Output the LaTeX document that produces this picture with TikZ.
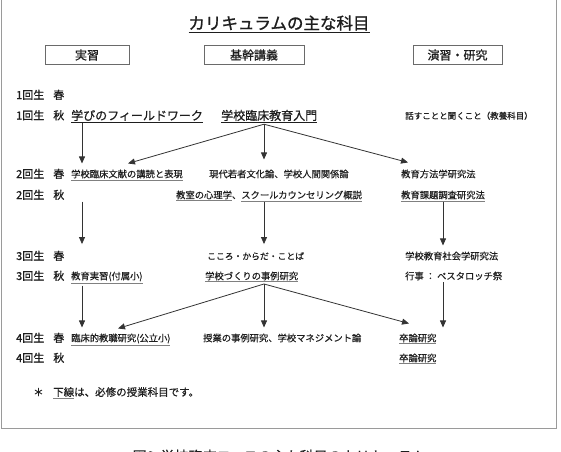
\documentclass[tikz,border=0pt]{standalone}
\usepackage{fontspec}
\setmainfont{Noto Sans CJK JP}[FakeBold=0.4]
\newfontfamily\heavyfont{Noto Sans CJK JP}[FakeBold=1.2]
\newfontfamily\midfont{Noto Sans CJK JP}[FakeBold=0.8]
\usetikzlibrary{arrows.meta}
\definecolor{ink}{HTML}{1E1E1E}
\definecolor{arrc}{HTML}{333333}
\definecolor{ulg}{HTML}{808080}
\definecolor{framec}{HTML}{9A9A9A}
\definecolor{boxc}{HTML}{6A6A6A}
\newcommand\ulk[1]{\underline{#1}}
\newcommand\ulgr[1]{\textcolor{ulg}{\underline{\textcolor{ink}{#1}}}}
\tikzset{
  txt/.style={inner sep=0pt, anchor=base west, text=ink, font=\fontsize{9.3}{11}\selectfont},
  bigtxt/.style={txt, font=\midfont\fontsize{12}{14}\selectfont},
  lbl/.style={txt, font=\midfont\fontsize{11}{13}\selectfont},
  hdr/.style={draw=boxc, line width=0.8pt, minimum height=19pt, inner sep=0pt, text=ink, font=\midfont\fontsize{12}{14}\selectfont},
  arr/.style={draw=arrc, line width=0.8pt, -{Triangle[length=7pt,width=6pt]}},
}
\begin{document}
\begin{tikzpicture}[x=1pt,y=-1pt]
\useasboundingbox (0,0) rectangle (561,451);
\clip (0,0) rectangle (561,451);
\fill[white] (0,0) rectangle (561,451);
% frame
\draw[framec, line width=1pt] (1,-5) rectangle (556,428);
% title
\node[anchor=base, inner sep=0pt, text=ink, font=\heavyfont\fontsize{16.5}{18}\selectfont] (title) at (279,29.3) {\ulk{カリキュラムの主な科目}};
% headers
\node[hdr, minimum width=84pt] (h1) at (87,55) {実習};
\node[hdr, minimum width=100pt] (h2) at (254,55) {基幹講義};
\node[hdr, minimum width=89pt] (h3) at (457.5,55) {演習・研究};
% columns
\coordinate (colA) at (82,0);
\coordinate (colB) at (264,0);
\coordinate (colC) at (443,0);
% row 1
\node[lbl] (r1a) at (16,99) {1回生\hspace{9pt}春};
\node[lbl] (r1b) at (16,119.5) {1回生\hspace{9pt}秋};
\node[bigtxt] (fw) at (71,120) {\ulk{学びのフィールドワーク}};
\node[bigtxt] (intro) at (221,120) {\ulk{学校臨床教育入門}};
\node[txt, font=\fontsize{8.5}{10}\selectfont] (hanasu) at (405,119) {話すことと聞くこと（教養科目）};
% row 2
\node[lbl] (r2a) at (16,178) {2回生\hspace{9pt}春};
\node[txt] (lit) at (71,177.5) {\ulgr{学校臨床文献の講読と表現}};
\node[txt] (mod) at (209,177.5) {現代若者文化論、学校人間関係論};
\node[txt] (meth) at (401,177.5) {教育方法学研究法};
\node[lbl] (r2b) at (16,199) {2回生\hspace{9pt}秋};
\node[txt] (psy) at (176,198.5) {\ulgr{教室の心理学}、\ulgr{スクールカウンセリング概説}};
\node[txt] (issue) at (401,198.5) {\ulgr{教育課題調査研究法}};
% row 3
\node[lbl] (r3a) at (16,260) {3回生\hspace{9pt}春};
\node[txt, font=\fontsize{8.8}{10}\selectfont] (kokoro) at (207,259.5) {こころ・からだ・ことば};
\node[txt] (soc) at (405,259.5) {学校教育社会学研究法};
\node[lbl] (r3b) at (16,280) {3回生\hspace{9pt}秋};
\node[txt] (prac) at (71,279.5) {\ulgr{教育実習(付属小)}};
\node[txt] (school) at (205,279.5) {\ulgr{学校づくりの事例研究}};
\node[txt] (event) at (405,279.5) {行事\hspace{2pt}：\hspace{2pt}ペスタロッチ祭};
% row 4
\node[lbl] (r4a) at (16,342) {4回生\hspace{9pt}春};
\node[txt] (clin) at (71,341.5) {\ulgr{臨床的教職研究(公立小)}};
\node[txt] (case) at (203,341.5) {授業の事例研究、学校マネジメント論};
\node[txt] (thes1) at (399,341.5) {\ulgr{卒論研究}};
\node[lbl] (r4b) at (16,362) {4回生\hspace{9pt}秋};
\node[txt] (thes2) at (399,361.5) {\ulgr{卒論研究}};
% note
\node[txt, font=\fontsize{10.5}{12}\selectfont] (ast) at (33,396) {＊};
\node[txt, font=\fontsize{10.5}{12}\selectfont] (note) at (53,396) {\ulgr{下線}は、必修の授業科目です。};
% caption (cut off by the picture edge, as in the reference)
\node[anchor=base, inner sep=0pt, text=ink, font=\fontsize{14}{16}\selectfont] (cap) at (279,461.5) {図3\hspace{6pt}学校臨床コースの主な科目のカリキュラム};
% connectors
\coordinate (s1) at ([yshift=-1pt]intro.south -| colB);
\coordinate (s2) at ([yshift=-1.5pt]school.south -| colB);
\draw[arr, shorten >=6pt] (fw.south -| colA) -- (lit.north -| colA);
\draw[arr] (s1) -- ([xshift=57pt,yshift=6pt]lit.north west);
\draw[arr, shorten >=10pt] (s1) -- (mod.north -| colB);
\draw[arr] (s1) -- ([xshift=7pt,yshift=7pt]meth.north west);
\draw[arr, shorten >=8pt] (psy.south -| colA) -- (kokoro.north -| colA);
\draw[arr, shorten >=8pt] (psy.south -| colB) -- (kokoro.north -| colB);
\draw[arr, shorten >=6pt] (issue.south -| colC) -- (soc.north -| colC);
\draw[arr, shorten <=2pt, shorten >=6pt] (prac.south -| colA) -- (clin.north -| colA);
\draw[arr, shorten >=6pt] (s2) -- (case.north -| colB);
\draw[arr] (s2) -- ([xshift=47pt,yshift=5pt]clin.north west);
\draw[arr] (s2) -- ([xshift=10pt,yshift=10pt]thes1.north west);
\draw[arr, shorten <=2pt, shorten >=6pt] (event.south -| colC) -- (thes1.north -| colC);
\end{tikzpicture}
\end{document}
